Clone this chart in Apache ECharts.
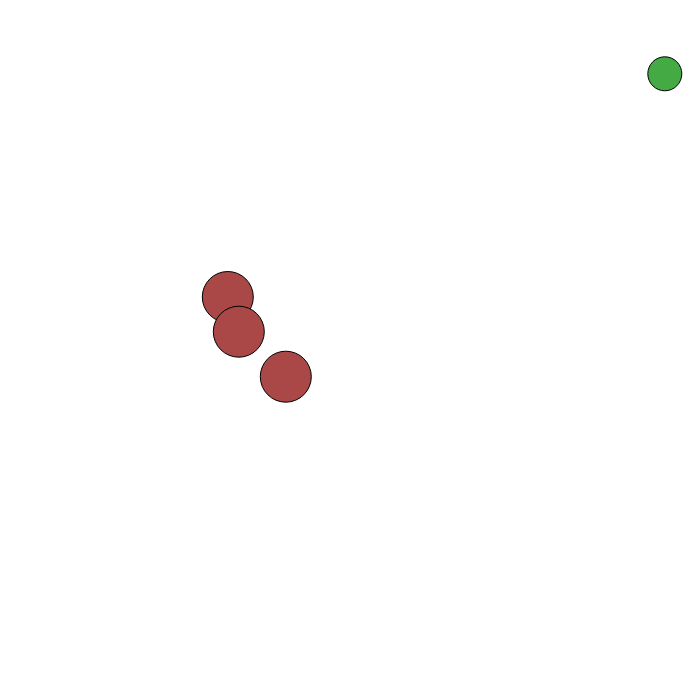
<!DOCTYPE html>
<html>
<head>
<meta charset="utf-8">
<script src="https://cdn.jsdelivr.net/npm/echarts@6/dist/echarts.min.js"></script>
<style>html,body{margin:0;padding:0;background:#fff}#c{width:700px;height:700px}</style>
</head>
<body>
<div id="c"></div>
<script>
var redX = [227.8, 238.8, 285.8];
var redY = [297.0, 331.7, 376.7];
var redSize = [51, 51, 51];
var greenX = [664.8];
var greenY = [73.8];
var greenSize = [34];

function pts(xs, ys, ss) {
  return xs.map(function (x, i) { return [x, ys[i], ss[i]]; });
}

var chart = echarts.init(document.getElementById('c'));
chart.setOption({
  animation: false,
  backgroundColor: '#ffffff',
  grid: { left: 0, right: 0, top: 0, bottom: 0 },
  xAxis: { type: 'value', min: 0, max: 700, show: false },
  yAxis: { type: 'value', min: 0, max: 700, inverse: true, show: false },
  series: [
    {
      type: 'scatter',
      data: pts(redX, redY, redSize),
      symbolSize: function (d) { return d[2]; },
      itemStyle: { color: '#aa4848', borderColor: '#000', borderWidth: 1, opacity: 1 }
    },
    {
      type: 'scatter',
      data: pts(greenX, greenY, greenSize),
      symbolSize: function (d) { return d[2]; },
      itemStyle: { color: '#44aa44', borderColor: '#000', borderWidth: 1, opacity: 1 }
    }
  ]
});
</script>
</body>
</html>
